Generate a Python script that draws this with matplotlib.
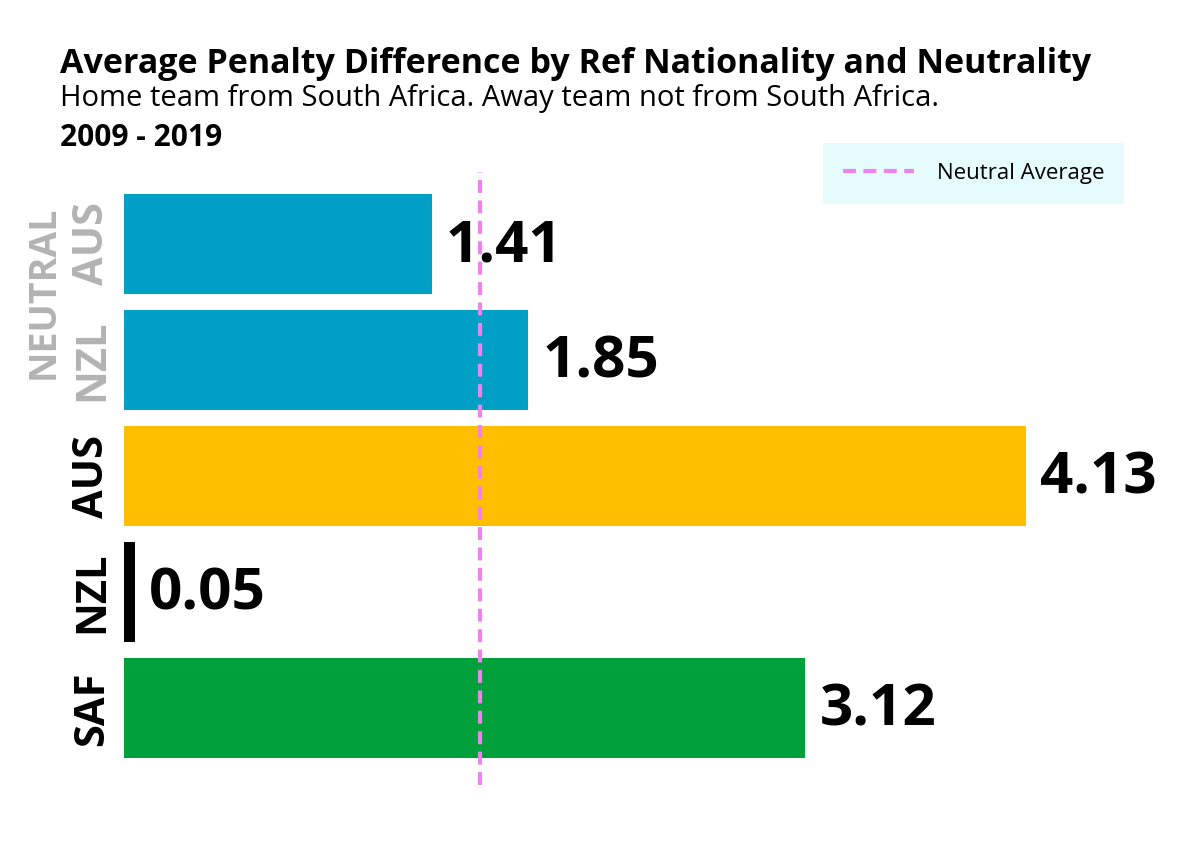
import matplotlib
matplotlib.use("Agg")
import matplotlib.pyplot as plt
from matplotlib.lines import Line2D

FONT = 'Open Sans'

categories = ["AUS", "NZL", "AUS", "NZL", "SAF"]
neutral = [True, True, False, False, False]
values = [1.41, 1.85, 4.13, 0.05, 3.12]
bar_colors = ["#00A0C6", "#00A0C6", "#FFBF00", "#000000", "#00A13A"]
label_colors = ["#B3B3B3", "#B3B3B3", "#000000", "#000000", "#000000"]
neutral_avg = sum(v for v, n in zip(values, neutral) if n) / sum(neutral)

fig = plt.figure(figsize=(11.91, 8.42), dpi=100)
ax = fig.add_axes([124/1191, 1-785/842, 1048/1191, (785-172)/842])

ypos = list(range(len(values)))
ax.barh(ypos, values, height=0.86, color=bar_colors, zorder=2)
ax.set_ylim(len(values) - 1 + 0.66, -0.62)
ax.set_xlim(0, 4.8)

for y, v in zip(ypos, values):
    ax.text(v + 0.065, y + 0.02, f"{v:.2f}", va='center', ha='left',
            fontsize=42, fontweight='bold', family=FONT, color='black', zorder=3)

ax.axvline(neutral_avg, color='#EE82EE', lw=3, dashes=(3.1, 1.8), zorder=4)

ax.set_yticks(ypos)
ax.set_yticklabels(categories, rotation=90, va='center', fontsize=30,
                   fontweight='bold', family=FONT)
for t, c in zip(ax.get_yticklabels(), label_colors):
    t.set_color(c)
ax.tick_params(axis='y', length=0, pad=8)
ax.set_xticks([])
for s in ax.spines.values():
    s.set_visible(False)

ax.text(-0.37, 0.42, "NEUTRAL", rotation=90, ha='center', va='center', fontsize=27,
        fontweight='bold', family=FONT, color='#B3B3B3', transform=ax.transData,
        clip_on=False)

fig.text(60/1191, 1-73/842, "Average Penalty Difference by Ref Nationality and Neutrality",
         fontsize=24.5, fontweight='bold', family=FONT, ha='left', va='baseline')
fig.text(60/1191, 1-106/842, "Home team from South Africa. Away team not from South Africa.",
         fontsize=21, family=FONT, ha='left', va='baseline')
fig.text(60/1191, 1-146/842, "2009 - 2019",
         fontsize=21.5, fontweight='bold', family=FONT, ha='left', va='baseline')

handle = Line2D([], [], color='#EE82EE', lw=3, dashes=(3.1, 1.8))
leg = fig.legend([handle], ["Neutral Average"], loc='upper right',
                 bbox_to_anchor=(1124/1191, 1-143/842), frameon=True, fancybox=False,
                 facecolor='#E6FCFC', edgecolor='none', framealpha=1,
                 prop={'family': FONT, 'size': 16}, handlelength=3.2,
                 borderpad=0.9, handletextpad=1.0, borderaxespad=0)

fig.savefig("out.png", dpi=100, facecolor='white')
